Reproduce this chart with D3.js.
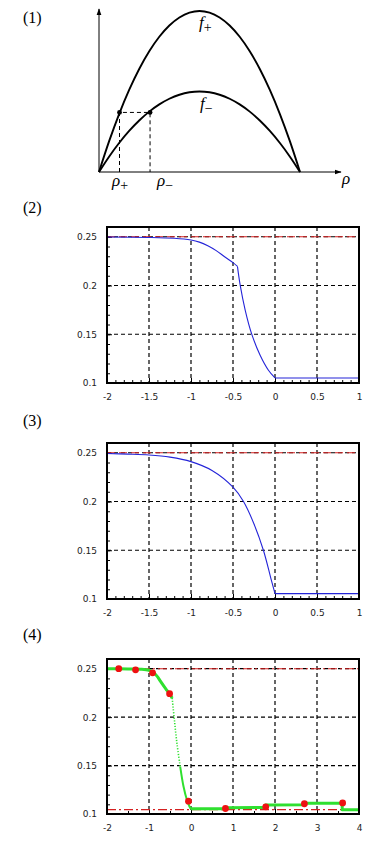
<!DOCTYPE html>
<html>
<head>
<meta charset="utf-8">
<script src="https://cdn.jsdelivr.net/npm/d3@7"></script>
<style>
body { margin: 0; background: #fff; }
</style>
</head>
<body>
<svg id="main" width="384" height="850"></svg>
<script>
// (1) sketch of f+ and f-
const rho = [0, 0.05, 0.1, 0.15, 0.2, 0.25, 0.3, 0.35, 0.4, 0.45, 0.5, 0.55, 0.6, 0.65, 0.7, 0.75, 0.8, 0.85, 0.9, 0.95, 1];
const fPlus = [0, 0.19, 0.36, 0.51, 0.64, 0.75, 0.84, 0.91, 0.96, 0.99, 1, 0.99, 0.96, 0.91, 0.84, 0.75, 0.64, 0.51, 0.36, 0.19, 0];
const fMinus = [0, 0.095, 0.18, 0.255, 0.32, 0.375, 0.42, 0.455, 0.48, 0.495, 0.5, 0.495, 0.48, 0.455, 0.42, 0.375, 0.32, 0.255, 0.18, 0.095, 0];
const rhoPlus = 0.102;
const rhoMinus = 0.254;
const fLevel = 0.37;

// (2) blue curve, with a kink at -0.447
const p2UpperX = [-2, -1.5, -1.2, -1.0, -0.9, -0.8, -0.7, -0.6, -0.5, -0.447];
const p2UpperY = [0.2497, 0.2493, 0.2484, 0.2466, 0.2445, 0.2408, 0.2358, 0.2295, 0.2235, 0.2196];
const p2LowerX = [-0.447, -0.415, -0.355, -0.276, -0.177, -0.078, 0];
const p2LowerY = [0.2196, 0.2006, 0.1748, 0.1498, 0.1285, 0.1131, 0.1052];
const p2FlatX = [0, 1];
const p2FlatY = [0.1052, 0.1052];

// (3)
const p3X = [-2, -1.75, -1.5, -1.25, -1, -0.75, -0.5, -0.375, -0.25, -0.138, -0.05, 0];
const p3Y = [0.2492, 0.2486, 0.2477, 0.2455, 0.2409, 0.2318, 0.2147, 0.2, 0.177, 0.15, 0.1215, 0.1055];
const p3FlatX = [0, 1];
const p3FlatY = [0.1055, 0.1055];

// (4)
const dotX = [-1.72, -1.32, -0.915, -0.51, -0.06, 0.82, 1.78, 2.7, 3.61];
const dotY = [0.25, 0.2488, 0.2457, 0.2242, 0.1132, 0.1057, 0.1074, 0.1106, 0.1114];
const topX = [-2, -1.5, -1.2, -1.0, -0.9, -0.8, -0.733, -0.6, -0.52, -0.447];
const topY = [0.25, 0.2498, 0.2495, 0.2484, 0.2462, 0.2418, 0.2374, 0.2292, 0.2245, 0.2196];
const dottedX = [-0.447, -0.4, -0.335, -0.257];
const dottedY = [0.2196, 0.199, 0.173, 0.149];
const lowerX = [-0.257, -0.178, -0.098, -0.036, 0];
const lowerY = [0.149, 0.1284, 0.1147, 0.1078, 0.1053];
const flatX = [0, 0.85, 0.85, 1.77, 1.77, 2.7, 2.7, 3.6, 3.6, 4];
const flatY = [0.1053, 0.1053, 0.1064, 0.1067, 0.1094, 0.1096, 0.111, 0.1112, 0.1043, 0.1043];
const upperRef = 0.25;
const lowerRef = 0.1045;

const yMajor = [0.1, 0.15, 0.2, 0.25];
const yMinor = d3.range(0.1, 0.2605, 0.01).map(d => +d.toFixed(2));

const svg = d3.select("#main");
const left = 107, right = 359;
const zip = (xs, ys) => xs.map((d, i) => [d, ys[i]]);

// panel labels
const labels = [["(1)", 22.5], ["(2)", 212.5], ["(3)", 425.5], ["(4)", 640]];
svg.append("g")
    .selectAll("text")
    .data(labels)
    .join("text")
    .attr("x", 23)
    .attr("y", d => d[1])
    .attr("font-family", "Liberation Serif")
    .attr("font-size", 16)
    .text(d => d[0]);

// ---------- (1) ----------
const sx = d3.scaleLinear([0, 1], [99, 300]);
const sy = d3.scaleLinear([0, 1], [172, 11]);
const defs = svg.append("defs");
defs.append("marker")
    .attr("id", "arr")
    .attr("viewBox", "0 0 10 10")
    .attr("refX", 9).attr("refY", 5)
    .attr("markerWidth", 7).attr("markerHeight", 7)
    .attr("markerUnits", "userSpaceOnUse")
    .attr("orient", "auto")
    .append("path").attr("d", "M0,1.5 L10,5 L0,8.5 Z").attr("fill", "#000");

const sketch = svg.append("g");
sketch.append("line")
    .attr("x1", sx(0)).attr("y1", sy(0)).attr("x2", 341).attr("y2", sy(0))
    .attr("stroke", "#000").attr("stroke-width", 1).attr("marker-end", "url(#arr)");
sketch.append("line")
    .attr("x1", sx(0)).attr("y1", sy(0)).attr("x2", sx(0)).attr("y2", 9)
    .attr("stroke", "#000").attr("stroke-width", 1).attr("marker-end", "url(#arr)");

const sketchLine = d3.line().x(d => sx(d[0])).y(d => sy(d[1])).curve(d3.curveCatmullRom);
[fPlus, fMinus].forEach(f => {
    sketch.append("path")
        .attr("d", sketchLine(zip(rho, f)))
        .attr("fill", "none")
        .attr("stroke", "#000")
        .attr("stroke-width", 1.9);
});
sketch.append("path")
    .attr("d", `M${sx(rhoPlus)},${sy(0)} V${sy(fLevel)} H${sx(rhoMinus)} V${sy(0)}`)
    .attr("fill", "none")
    .attr("stroke", "#000")
    .attr("stroke-width", 1)
    .attr("stroke-dasharray", "4,3");
sketch.selectAll("circle")
    .data([rhoPlus, rhoMinus])
    .join("circle")
    .attr("cx", d => sx(d))
    .attr("cy", sy(fLevel))
    .attr("r", 2.4)
    .attr("fill", "#000");

const mathText = (x, y, main, sub) => {
    const t = sketch.append("text")
        .attr("x", x).attr("y", y)
        .attr("font-family", "Liberation Serif")
        .attr("font-size", 17);
    t.append("tspan").attr("font-style", "italic").text(main);
    if (sub) {
        t.append("tspan").attr("dy", 4).attr("font-size", 14).text(sub);
    }
};
mathText(199, 28, "f", "+");
mathText(200, 109, "f", "\u2212");
mathText(112, 186, "\u03c1", "+");
mathText(157, 186, "\u03c1", "\u2212");
mathText(342, 184, "\u03c1", null);

// ---------- (2)-(4) ----------
const makeFrame = (top, bottom, xMajor, xMinor) => {
    const xScale = d3.scaleLinear([xMajor[0], xMajor[xMajor.length - 1]], [left, right]);
    const yScale = d3.scaleLinear([0.1, 0.26], [bottom, top]);
    const g = svg.append("g");

    g.append("g")
        .selectAll("line")
        .data(xMajor.slice(1, -1))
        .join("line")
        .attr("x1", d => xScale(d)).attr("x2", d => xScale(d))
        .attr("y1", top).attr("y2", bottom)
        .attr("stroke", "#000").attr("stroke-width", 1.2).attr("stroke-dasharray", "4,3");
    g.append("g")
        .selectAll("line")
        .data(yMajor.slice(1))
        .join("line")
        .attr("x1", left).attr("x2", right)
        .attr("y1", d => yScale(d)).attr("y2", d => yScale(d))
        .attr("stroke", "#000").attr("stroke-width", 1.2).attr("stroke-dasharray", "4,3");

    const fmt = d => String(d);
    const xAxis = g.append("g")
        .attr("transform", `translate(0,${bottom})`)
        .call(d3.axisBottom(xScale).tickValues(xMajor).tickSize(-5).tickPadding(11).tickFormat(fmt));
    g.append("g")
        .attr("transform", `translate(0,${bottom})`)
        .call(d3.axisBottom(xScale).tickValues(xMinor).tickSize(-3).tickFormat(""));
    const yAxis = g.append("g")
        .attr("transform", `translate(${left},0)`)
        .call(d3.axisLeft(yScale).tickValues(yMajor).tickSize(-5).tickPadding(10).tickFormat(fmt));
    g.append("g")
        .attr("transform", `translate(${left},0)`)
        .call(d3.axisLeft(yScale).tickValues(yMinor).tickSize(-3).tickFormat(""));
    g.selectAll(".domain").remove();
    g.selectAll(".tick line").attr("stroke-width", 1);
    [xAxis, yAxis].forEach(a => a.attr("font-family", "DejaVu Sans").attr("font-size", 9)
        .selectAll("text").attr("fill", "#222"));

    return {g, xScale, yScale, top, bottom};
};

const finish = (p) => {
    p.g.append("rect")
        .attr("x", left).attr("y", p.top)
        .attr("width", right - left).attr("height", p.bottom - p.top)
        .attr("fill", "none").attr("stroke", "#000").attr("stroke-width", 2);
};

const refLine = (p, v, dash) => {
    p.g.append("line")
        .attr("x1", left).attr("x2", right)
        .attr("y1", p.yScale(v)).attr("y2", p.yScale(v))
        .attr("stroke", "#d42020").attr("stroke-width", 1.1)
        .attr("stroke-dasharray", dash);
};

const curve = (p, xs, ys, color, width, dash, smooth = true) => {
    const line = d3.line().x(d => p.xScale(d[0])).y(d => p.yScale(d[1]));
    if (smooth) line.curve(d3.curveCatmullRom.alpha(0.5));
    const path = p.g.append("path")
        .attr("d", line(zip(xs, ys)))
        .attr("fill", "none")
        .attr("stroke", color)
        .attr("stroke-width", width)
        .attr("stroke-linejoin", "round");
    if (dash) path.attr("stroke-dasharray", dash);
};

const x23Major = [-2, -1.5, -1, -0.5, 0, 0.5, 1];
const x23Minor = d3.range(-2, 1.001, 0.1).map(d => +d.toFixed(1));
const blue = "#2424d8";

const p2 = makeFrame(227, 383, x23Major, x23Minor);
refLine(p2, upperRef, "8,4");
curve(p2, p2UpperX, p2UpperY, blue, 1.1);
curve(p2, p2LowerX, p2LowerY, blue, 1.1);
curve(p2, p2FlatX, p2FlatY, blue, 1.1, null, false);
finish(p2);

const p3 = makeFrame(443, 599, x23Major, x23Minor);
refLine(p3, upperRef, "8,4");
curve(p3, p3X, p3Y, blue, 1.1);
curve(p3, p3FlatX, p3FlatY, blue, 1.1, null, false);
finish(p3);

const x4Major = [-2, -1, 0, 1, 2, 3, 4];
const x4Minor = d3.range(-2, 4.001, 0.5);
const p4 = makeFrame(659, 814, x4Major, x4Minor);
refLine(p4, upperRef, "9,3,2,3");
refLine(p4, lowerRef, "9,3,2,3");
const green = "#2fe02f";
curve(p4, topX, topY, green, 3);
curve(p4, dottedX, dottedY, green, 1.6, "1.2,1.6");
curve(p4, lowerX, lowerY, green, 2);
curve(p4, flatX, flatY, green, 3, null, false);
p4.g.append("g")
    .selectAll("circle")
    .data(zip(dotX, dotY))
    .join("circle")
    .attr("cx", d => p4.xScale(d[0]))
    .attr("cy", d => p4.yScale(d[1]))
    .attr("r", 3.4)
    .attr("fill", "#ee1111");
finish(p4);
</script>
</body>
</html>
